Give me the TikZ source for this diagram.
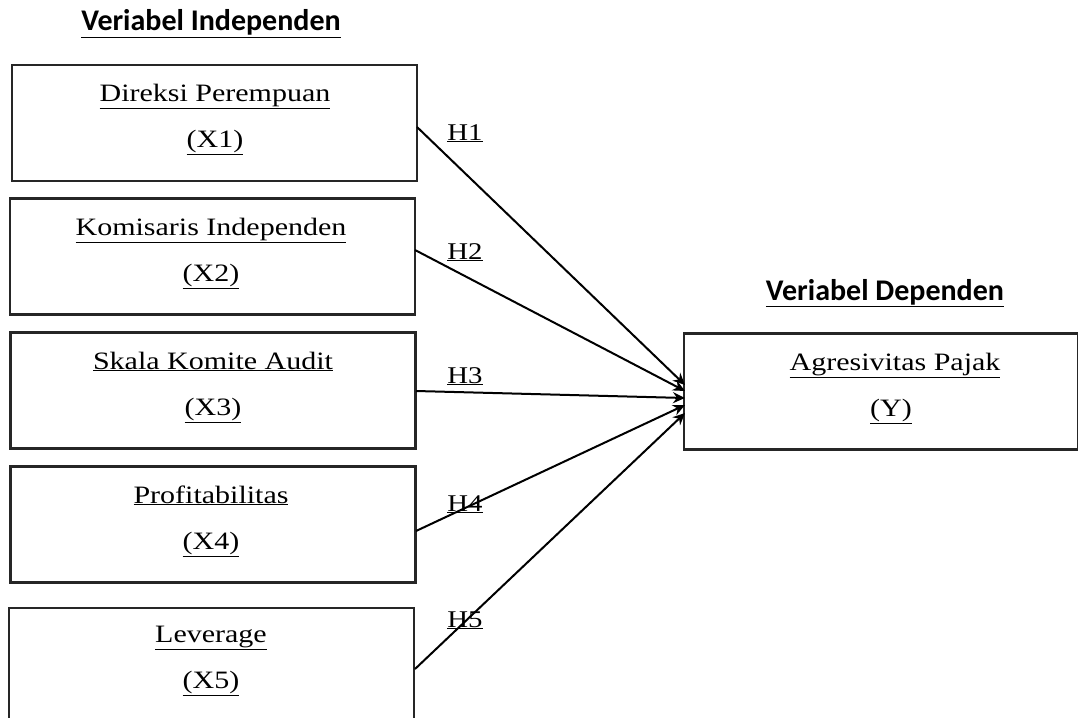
\documentclass[tikz,border=0pt]{standalone}
\usepackage{fontspec}
\setmainfont{Liberation Serif}
\newfontfamily\boxfont[FakeStretch=1.2]{Liberation Serif}
\newfontfamily\titlefont{Carlito}
\usetikzlibrary{arrows.meta}
\begin{document}
\begin{tikzpicture}[x=1pt,y=-1pt,
  varbox/.style={draw=black!85,line width=2.4pt,minimum width=405pt,minimum height=116pt,inner sep=0pt},
  boxtext/.style={font=\boxfont\fontsize{25}{30}\selectfont,inner sep=0pt,anchor=base},
  titletext/.style={font=\titlefont\bfseries\fontsize{30}{36}\selectfont,inner sep=0pt,anchor=base},
  hyp/.style={font=\boxfont\fontsize{24}{28}\selectfont,inner sep=0pt,anchor=base},
  conn/.style={line width=2pt,-{Stealth[length=12pt,width=11pt]}}]
\useasboundingbox (0,0) rectangle (1078,717);
% titles
\node[titletext] (tind) at (211,31) {\underline{Veriabel Independen}};
\node[titletext] (tdep) at (885,300) {\underline{Veriabel Dependen}};
% independent boxes
\node[varbox] (x1) at (214.5,123) {};
\node[varbox] (x2) at (212.5,256.5) {};
\node[varbox] (x3) at (213,390.5) {};
\node[varbox] (x4) at (213,524.5) {};
\node[varbox] (x5) at (211.5,666) {};
\node[varbox,minimum width=394pt] (y) at (881,391.5) {};
% texts
\node[boxtext] (x1a) at (215,101) {\underline{Direksi Perempuan}};
\node[boxtext] (x1b) at (215,147) {\underline{(X1)}};
\node[boxtext] (x2a) at (211,235) {\underline{Komisaris Independen}};
\node[boxtext] (x2b) at (211,281) {\underline{(X2)}};
\node[boxtext] (x3a) at (213,369) {\underline{Skala Komite Audit}};
\node[boxtext] (x3b) at (213,415) {\underline{(X3)}};
\node[boxtext] (x4a) at (211,503) {\underline{Profitabilitas}};
\node[boxtext] (x4b) at (211,549) {\underline{(X4)}};
\node[boxtext] (x5a) at (211,642) {\underline{Leverage}};
\node[boxtext] (x5b) at (211,688) {\underline{(X5)}};
\node[boxtext] (ya) at (895,370) {\underline{Agresivitas Pajak}};
\node[boxtext] (yb) at (891,416) {\underline{(Y)}};
% anchor coordinates
\coordinate (s1) at (417,127);
\coordinate (s2) at (415,250);
\coordinate (s3) at (416,391);
\coordinate (s4) at (416,531);
\coordinate (s5) at (415,669);
\coordinate (e1) at (685,385);
\coordinate (e2) at (685,391);
\coordinate (e3) at (685,398);
\coordinate (e4) at (685,405);
\coordinate (e5) at (685,413);
\draw[conn] (s1) -- (e1);
\draw[conn] (s2) -- (e2);
\draw[conn] (s3) -- (e3);
\draw[conn] (s4) -- (e4);
\draw[conn] (s5) -- (e5);
% hypothesis labels
\node[hyp] (h1) at (465,140) {\underline{H1}};
\node[hyp] (h2) at (465,259) {\underline{H2}};
\node[hyp] (h3) at (465,383) {\underline{H3}};
\node[hyp] (h4) at (465,511) {\underline{H4}};
\node[hyp] (h5) at (465,627) {\underline{H5}};
\end{tikzpicture}
\end{document}
